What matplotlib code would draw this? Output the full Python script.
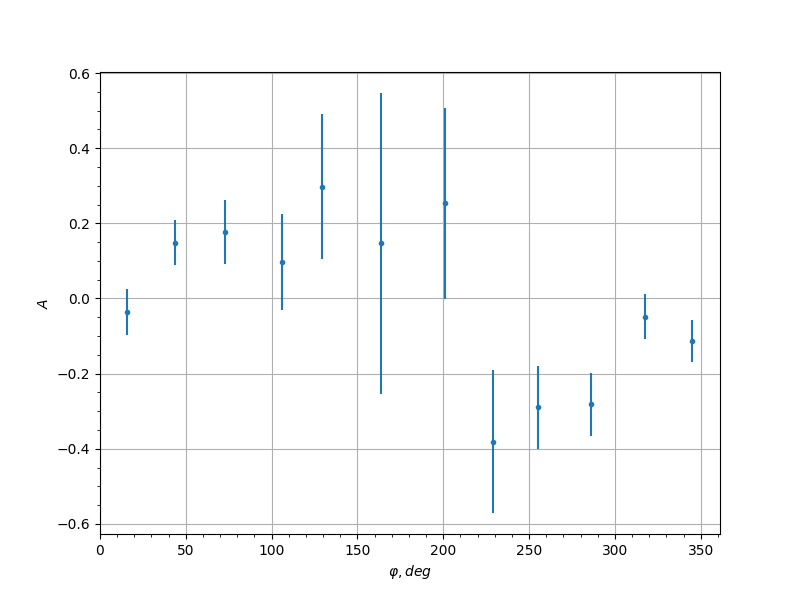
import matplotlib
matplotlib.use('Agg')
import matplotlib.pyplot as plt

phi = [15.7, 43.7, 72.8, 106.0, 129.3, 163.7, 201.0, 228.9, 255.0, 286.0, 317.4, 344.8]
A = [-0.037, 0.149, 0.178, 0.098, 0.298, 0.147, 0.253, -0.381, -0.290, -0.282, -0.048, -0.114]
A_err = [0.061, 0.060, 0.085, 0.128, 0.194, 0.400, 0.255, 0.190, 0.110, 0.083, 0.061, 0.056]

fig, ax = plt.subplots(figsize=(8, 6), dpi=100)
ax.errorbar(phi, A, yerr=A_err, fmt='.')
ax.set_xlim(left=0)
ax.minorticks_on()
ax.grid(which='major')
ax.set_xlabel(r'$\varphi, deg$')
ax.set_ylabel(r'$A$')

plt.savefig('out.png')
